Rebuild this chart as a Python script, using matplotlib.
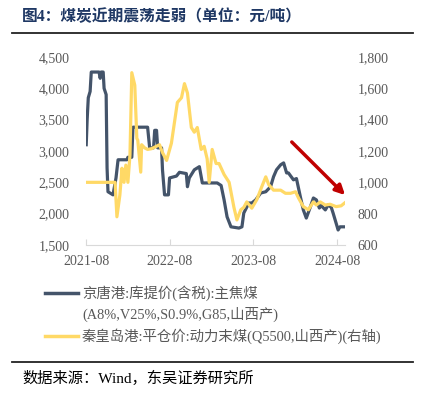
import matplotlib
matplotlib.use("Agg")
import matplotlib.pyplot as plt
import matplotlib.dates as mdates
from matplotlib.lines import Line2D
from matplotlib.ticker import FuncFormatter
import pandas as pd

# 京唐港 主焦煤 库提价 (left axis)
coke_dates = ["2021-08-01", "2021-08-05", "2021-08-10", "2021-08-18", "2021-08-23", "2021-09-26",
              "2021-10-01", "2021-10-05", "2021-10-14", "2021-10-18", "2021-10-27", "2021-10-31",
              "2021-11-04", "2021-11-26", "2021-12-09", "2021-12-18", "2022-01-26", "2022-01-30",
              "2022-02-16", "2022-02-21", "2022-04-26", "2022-05-05", "2022-05-22", "2022-05-27",
              "2022-06-04", "2022-06-09", "2022-06-26", "2022-06-30", "2022-07-09", "2022-07-26",
              "2022-07-31", "2022-08-30", "2022-09-12", "2022-10-12", "2022-10-17", "2022-10-25",
              "2022-11-16", "2022-12-08", "2022-12-21", "2023-02-24", "2023-03-13", "2023-03-26",
              "2023-04-08", "2023-04-25", "2023-05-30", "2023-06-12", "2023-06-20", "2023-07-12",
              "2023-07-25", "2023-08-11", "2023-09-02", "2023-09-24", "2023-10-15", "2023-10-28",
              "2023-11-10", "2023-11-28", "2023-12-11", "2023-12-24", "2024-01-01", "2024-01-23",
              "2024-02-05", "2024-02-22", "2024-03-06", "2024-03-19", "2024-04-06", "2024-04-19",
              "2024-05-02", "2024-05-15", "2024-05-23", "2024-06-10", "2024-06-23", "2024-07-06",
              "2024-07-14", "2024-07-23", "2024-08-05", "2024-08-13", "2024-09-02"]
coke_values = [3100, 3500, 3850, 3950, 4260, 4260,
               4160, 4260, 4260, 4000, 3900, 2730,
               2350, 2300, 2570, 2860, 2860, 2900,
               2900, 3380, 3380, 3050, 3050, 3330,
               3330, 3050, 3050, 2700, 2300, 2300,
               2570, 2600, 2660, 2640, 2430, 2570,
               2700, 2750, 2490, 2490, 2450, 2220,
               1950, 1790, 1770, 1790, 2010, 2170,
               2170, 2220, 2330, 2350, 2430, 2590,
               2700, 2780, 2810, 2650, 2650, 2540,
               2560, 2270, 2060, 1930, 2110, 2250,
               2220, 2090, 2130, 2060, 2140, 2100,
               2010, 1900, 1740, 1790, 1790]

# 秦皇岛港 动力末煤 平仓价 (right axis)
thermal_dates = ["2021-08-01", "2021-12-05", "2021-12-13", "2021-12-26", "2022-01-04", "2022-01-13",
                 "2022-01-21", "2022-01-30", "2022-02-08", "2022-02-16", "2022-03-01", "2022-03-10",
                 "2022-03-14", "2022-03-27", "2022-03-31", "2022-04-13", "2022-04-26", "2022-05-14",
                 "2022-06-17", "2022-06-30", "2022-07-18", "2022-08-08", "2022-08-21", "2022-09-03",
                 "2022-09-21", "2022-10-04", "2022-10-17", "2022-11-03", "2022-11-16", "2022-11-29",
                 "2022-12-16", "2022-12-29", "2023-01-11", "2023-01-20", "2023-02-02", "2023-02-19",
                 "2023-03-04", "2023-03-26", "2023-04-17", "2023-05-08", "2023-05-21", "2023-06-07",
                 "2023-06-20", "2023-07-03", "2023-07-25", "2023-08-16", "2023-09-06", "2023-09-24",
                 "2023-10-07", "2023-10-28", "2023-11-28", "2023-12-19", "2024-01-10", "2024-02-01",
                 "2024-02-14", "2024-03-06", "2024-03-28", "2024-04-19", "2024-05-02", "2024-05-19",
                 "2024-06-10", "2024-07-01", "2024-07-27", "2024-08-18", "2024-09-04"]
thermal_values = [1000, 1000, 780, 920, 1090, 1000,
                  1110, 1000, 1175, 1700, 1620, 1280,
                  1270, 1065, 1240, 1220, 1210, 1215,
                  1240, 1190, 1140, 1250, 1380, 1510,
                  1540, 1630, 1570, 1350, 1320, 1350,
                  1210, 1230, 1150, 1000, 1210, 1120,
                  1120, 1050, 1000, 840, 760, 825,
                  840, 875, 835, 890, 970, 1035,
                  985, 950, 950, 930, 930, 940,
                  900, 845, 825, 875, 855, 875,
                  855, 860, 845, 850, 870]

x_ticks = ["2021-08-01", "2022-08-01", "2023-08-01", "2024-08-01"]
x_labels = ["2021-08", "2022-08", "2023-08", "2024-08"]
left_ticks = [1500, 2000, 2500, 3000, 3500, 4000, 4500]
right_ticks = [600, 800, 1000, 1200, 1400, 1600, 1800]

label_coke = "京唐港:库提价(含税):主焦煤"
label_coke2 = "(A8%,V25%,S0.9%,G85,山西产)"
label_thermal = "秦皇岛港:平仓价:动力末煤(Q5500,山西产)(右轴)"

fonts = ["Liberation Serif", "Noto Sans CJK SC", "DejaVu Sans"]
plt.rcParams["font.family"] = fonts

dark = "#44546A"
yellow = "#FFD966"
gray = "#595959"

W, H = 421, 396
fig = plt.figure(figsize=(W / 100, H / 100), dpi=100)
ax = fig.add_axes([86 / W, 1 - 245 / H, (345 - 86) / W, (245 - 57) / H])
ax2 = ax.twinx()

ax.plot(pd.to_datetime(coke_dates), coke_values, color=dark, lw=2.3, solid_joinstyle="round")
ax2.plot(pd.to_datetime(thermal_dates), thermal_values, color=yellow, lw=2.3, solid_joinstyle="round")

ax.set_xlim(pd.Timestamp("2021-07-31"), pd.Timestamp("2024-09-04"))
ax.set_ylim(1500, 4500)
ax2.set_ylim(600, 1800)
ax.set_yticks(left_ticks)
ax2.set_yticks(right_ticks)
ax.yaxis.set_major_formatter(FuncFormatter(lambda v, p: f"{v:,.0f}"))
ax2.yaxis.set_major_formatter(FuncFormatter(lambda v, p: f"{v:,.0f}"))
ax.set_xticks(pd.to_datetime(x_ticks))
ax.set_xticklabels(x_labels)

for a in (ax, ax2):
    for s in a.spines.values():
        s.set_visible(False)
ax.spines["bottom"].set_visible(True)
ax.spines["bottom"].set_color("#D9D9D9")
ax.tick_params(axis="x", direction="in", length=4, color="#D9D9D9", labelsize=10, labelcolor=gray, pad=7)
ax.tick_params(axis="y", length=0, labelsize=10, labelcolor=gray, pad=12)
ax2.tick_params(axis="y", length=0, labelsize=10, labelcolor=gray, pad=9)

# red arrow
ax2.annotate("", xy=(mdates.datestr2num("2024-09-13"), 906),
             xytext=(mdates.datestr2num("2024-01-07"), 1270),
             arrowprops=dict(arrowstyle="-|>", color="#C00000", lw=2.5, mutation_scale=14),
             annotation_clip=False)

# title and rules
fig.text(22 / W, 1 - 17 / H, "图4：煤炭近期震荡走弱（单位：元/吨）", fontsize=11.3, fontweight="bold",
         color="#1F3864", va="center", ha="left")
fig.add_artist(Line2D([12 / W, 413 / W], [1 - 33 / H, 1 - 33 / H], color="#222222", lw=1.3))
fig.add_artist(Line2D([12 / W, 413 / W], [1 - 362 / H, 1 - 362 / H], color="#222222", lw=1.3))
fig.text(22 / W, 1 - 378 / H, "数据来源：Wind，东吴证券研究所", fontsize=11, color="black",
         va="center", ha="left")

# legend
fig.add_artist(Line2D([45 / W, 78 / W], [1 - 293 / H, 1 - 293 / H], color=dark, lw=2.5))
fig.add_artist(Line2D([45 / W, 78 / W], [1 - 336 / H, 1 - 336 / H], color=yellow, lw=2.5))
fig.text(82 / W, 1 - 293 / H, label_coke, fontsize=10.4, color=gray, va="center", ha="left")
fig.text(82 / W, 1 - 314 / H, label_coke2, fontsize=10.4, color=gray, va="center", ha="left")
fig.text(82 / W, 1 - 336 / H, label_thermal, fontsize=10.4, color=gray, va="center", ha="left")

fig.savefig("out.png", dpi=100)
